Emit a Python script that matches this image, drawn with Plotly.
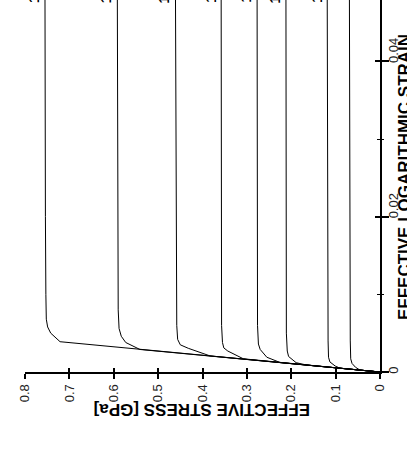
import plotly.graph_objects as go

# ---- data (strain [-], effective stress [GPa]) ----
strain_1 = [0, 0.0039, 0.0050, 0.0058, 0.0068, 0.010, 0.020, 0.050]
stress_1 = [0, 0.721, 0.742, 0.749, 0.752, 0.753, 0.754, 0.755]

strain_2 = [0, 0.0029, 0.0038, 0.0046, 0.0056, 0.008, 0.050]
stress_2 = [0, 0.541, 0.573, 0.583, 0.588, 0.590, 0.592]

strain_3 = [0, 0.00207, 0.00305, 0.0035, 0.0042, 0.006, 0.050]
stress_3 = [0, 0.383, 0.432, 0.450, 0.456, 0.458, 0.461]

strain_4 = [0, 0.0017, 0.0027, 0.0031, 0.0038, 0.006, 0.050]
stress_4 = [0, 0.308, 0.343, 0.352, 0.355, 0.357, 0.358]

strain_5 = [0, 0.00122, 0.0019, 0.0029, 0.0036, 0.006, 0.050]
stress_5 = [0, 0.225, 0.255, 0.270, 0.274, 0.276, 0.277]

strain_6 = [0, 0.00089, 0.0012, 0.0020, 0.0027, 0.005, 0.050]
stress_6 = [0, 0.165, 0.189, 0.206, 0.209, 0.211, 0.212]

strain_7 = [0, 0.00049, 0.00077, 0.0013, 0.0019, 0.004, 0.050]
stress_7 = [0, 0.090, 0.101, 0.113, 0.116, 0.117, 0.119]

strain_8 = [0, 0.00024, 0.0006, 0.0011, 0.0017, 0.004, 0.050]
stress_8 = [0, 0.045, 0.055, 0.063, 0.066, 0.067, 0.069]

curve_labels = ["10<sup>2</sup> s<sup>-1</sup>", "10<sup>1</sup> s<sup>-1</sup>",
                "10<sup>0</sup> s<sup>-1</sup>", "10<sup>-1</sup> s<sup>-1</sup>",
                "10<sup>-2</sup> s<sup>-1</sup>", "10<sup>-3</sup> s<sup>-1</sup>",
                "10<sup>-4</sup> s<sup>-1</sup>", None]

stress_ticks = [0, 0.1, 0.2, 0.3, 0.4, 0.5, 0.6, 0.7, 0.8]
stress_ticktext = ["0", "0.1", "0.2", "0.3", "0.4", "0.5", "0.6", "0.7", "0.8"]
strain_ticks = [0, 0.02, 0.04]
strain_ticktext = ["0", "0.02", "0.04"]

stress_range = [0.8, 0]
strain_range = [0, 0.0479]

strains = [strain_1, strain_2, strain_3, strain_4, strain_5, strain_6, strain_7, strain_8]
stresses = [stress_1, stress_2, stress_3, stress_4, stress_5, stress_6, stress_7, stress_8]

FONT = "Liberation Sans, Arial, sans-serif"
NBSP = "\u00a0"

# strain labels start at their tick (left-aligned in the unrotated original)
strain_labels = [t if len(t) == 1 else NBSP * 5 + t for t in strain_ticktext]

fig = go.Figure()
for e, s in zip(strains, stresses):
    # rotated chart: stress runs horizontally (right to left), strain vertically
    fig.add_trace(go.Scatter(x=s, y=e, mode="lines",
                             line=dict(color="black", width=1),
                             showlegend=False, hoverinfo="skip"))

# helper traces for the overlay axes (cross-through ticks)
fig.add_trace(go.Scatter(x=[None], y=[None], xaxis="x2", yaxis="y", showlegend=False))
fig.add_trace(go.Scatter(x=[None], y=[None], xaxis="x", yaxis="y2", showlegend=False))

for lab, s in zip(curve_labels, stresses):
    if lab is None:
        continue
    fig.add_annotation(x=s[-1], xref="x", y=1, yref="paper",
                       text=lab, showarrow=False, textangle=-90,
                       xanchor="center", yanchor="bottom", xshift=-12, yshift=-5,
                       font=dict(family=FONT, size=14, color="black", weight="bold"))

fig.add_annotation(x=0.4, xref="x", y=0, yref="paper",
                   text="EFFECTIVE STRESS [GPa]", showarrow=False, textangle=180,
                   xanchor="center", yanchor="middle", yshift=-38,
                   font=dict(family=FONT, size=17, color="black", weight="bold"))

fig.add_annotation(x=1, xref="paper", y=0.0251, yref="y",
                   text="EFFECTIVE LOGARITHMIC STRAIN", showarrow=False, textangle=-90,
                   xanchor="center", yanchor="middle", xshift=24,
                   font=dict(family=FONT, size=17, color="black", weight="bold"))

tickfont = dict(family=FONT, size=13, color="#222222")

fig.update_layout(
    width=407, height=454,
    margin=dict(l=25, r=27, t=0, b=82),
    paper_bgcolor="white", plot_bgcolor="white",
    xaxis=dict(range=stress_range, tickvals=stress_ticks, ticktext=stress_ticktext,
               tickangle=-90, ticks="outside", ticklen=5, tickwidth=1.5, tickcolor="black",
               showline=True, linewidth=2, linecolor="black",
               showgrid=False, zeroline=False, tickfont=tickfont),
    xaxis2=dict(range=stress_range, overlaying="x", side="bottom", anchor="y",
                tickvals=stress_ticks, ticks="inside", ticklen=4, tickwidth=1.5,
                tickcolor="black", showticklabels=False, showline=False,
                showgrid=False, zeroline=False),
    yaxis=dict(range=strain_range, side="right", tickvals=strain_ticks,
               ticktext=strain_labels, tickangle=-90,
               ticks="inside", ticklen=5, tickwidth=1.5, tickcolor="black",
               minor=dict(dtick=0.01, ticks="inside", ticklen=3, tickwidth=1,
                          tickcolor="black"),
               showline=True, linewidth=2, linecolor="black",
               showgrid=False, zeroline=False, tickfont=tickfont),
    yaxis2=dict(range=strain_range, overlaying="y", side="right", anchor="x",
                tickvals=strain_ticks, ticks="outside", ticklen=8, tickwidth=1.5,
                tickcolor="black",
                minor=dict(dtick=0.01, ticks="outside", ticklen=3, tickwidth=1,
                           tickcolor="black"),
                showticklabels=False, showline=False, showgrid=False, zeroline=False),
)

fig.write_html("out.html")
